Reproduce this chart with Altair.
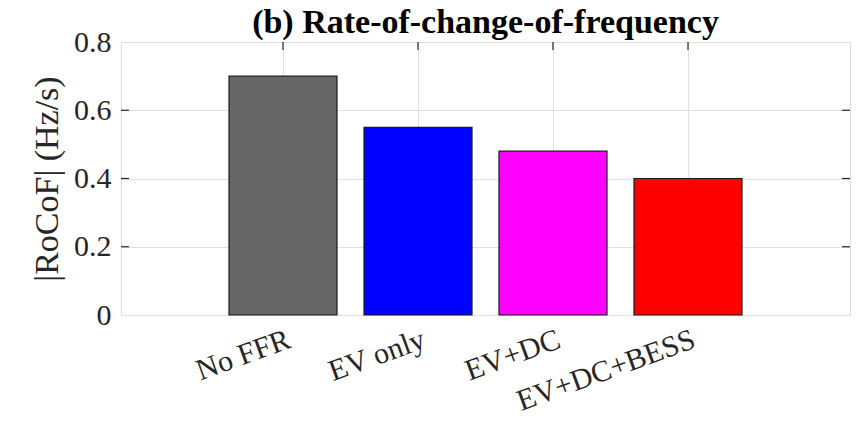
import altair as alt
import pandas as pd

categories = ["No FFR", "EV only", "EV+DC", "EV+DC+BESS"]
rocof = [0.70, 0.55, 0.48, 0.40]
bar_colors = ["#666666", "#0000ff", "#ff00ff", "#ff0000"]
y_ticks = [0, 0.2, 0.4, 0.6, 0.8]
inner_ticks = [0.2, 0.4, 0.6]

df = pd.DataFrame({"cat": categories, "val": rocof, "color": bar_colors})
tick_df = pd.DataFrame({"t": inner_ticks})

FONT = "'Times New Roman', 'Liberation Serif', serif"
W, H = 729, 273
x_scale = alt.Scale(domain=categories, paddingInner=0.2, paddingOuter=0.8)
y_scale = alt.Scale(domain=[0, 0.8], nice=False, zero=True)

bars = alt.Chart(df).mark_bar(stroke="#1a1a1a", strokeWidth=1.2).encode(
    x=alt.X("cat:N", scale=x_scale, sort=categories,
            axis=alt.Axis(title=None, labelAngle=340, labelAlign="right",
                          labelBaseline="top", labelFont=FONT, labelFontSize=30,
                          labelColor="#262626", labelPadding=9, labelOffset=1,
                          labelLimit=0, labelOverlap=False,
                          ticks=False, domain=False, grid=True,
                          gridColor="#e0e0e0", gridWidth=1)),
    y=alt.Y("val:Q", scale=y_scale,
            axis=alt.Axis(title="|RoCoF| (Hz/s)", values=y_ticks,
                          labelExpr="datum.value == 0 ? '0' : format(datum.value, '.1f')",
                          labelFont=FONT, labelFontSize=30, labelColor="#262626",
                          labelPadding=10, ticks=False, domain=False,
                          grid=True, gridColor="#e0e0e0", gridWidth=1,
                          titleFont=FONT, titleFontSize=34, titleFontWeight="normal",
                          titleColor="#262626", titleAngle=270, titleAlign="center",
                          titleBaseline="alphabetic", titleX=-64, titleY=H / 2)),
    fill=alt.Fill("color:N", scale=None),
)

top_ticks = alt.Chart(df).mark_rule(color="#262626", strokeWidth=1.2).encode(
    x=alt.X("cat:N", scale=x_scale, sort=categories),
    y=alt.value(0), y2=alt.value(8),
)
right_ticks = alt.Chart(tick_df).mark_rule(color="#262626", strokeWidth=1.2).encode(
    y=alt.Y("t:Q", scale=y_scale),
    x=alt.value(W - 8), x2=alt.value(W),
)
left_ticks = alt.Chart(tick_df).mark_rule(color="#262626", strokeWidth=1.2).encode(
    y=alt.Y("t:Q", scale=y_scale),
    x=alt.value(0), x2=alt.value(8),
)

chart = alt.layer(bars, top_ticks, right_ticks, left_ticks).properties(
    width=W, height=H,
    title=alt.TitleParams("(b) Rate-of-change-of-frequency", font=FONT, fontSize=34,
                          fontWeight="bold", color="#000000", anchor="middle",
                          baseline="alphabetic", offset=0, dy=40),
    autosize=alt.AutoSizeParams(type="none"),
    padding={"left": 113, "top": 34, "right": 1, "bottom": 100},
).configure_view(stroke="#262626", strokeWidth=1.2).configure(background="white")

chart.save("out.html", embed_options={"renderer": "svg", "actions": False})
